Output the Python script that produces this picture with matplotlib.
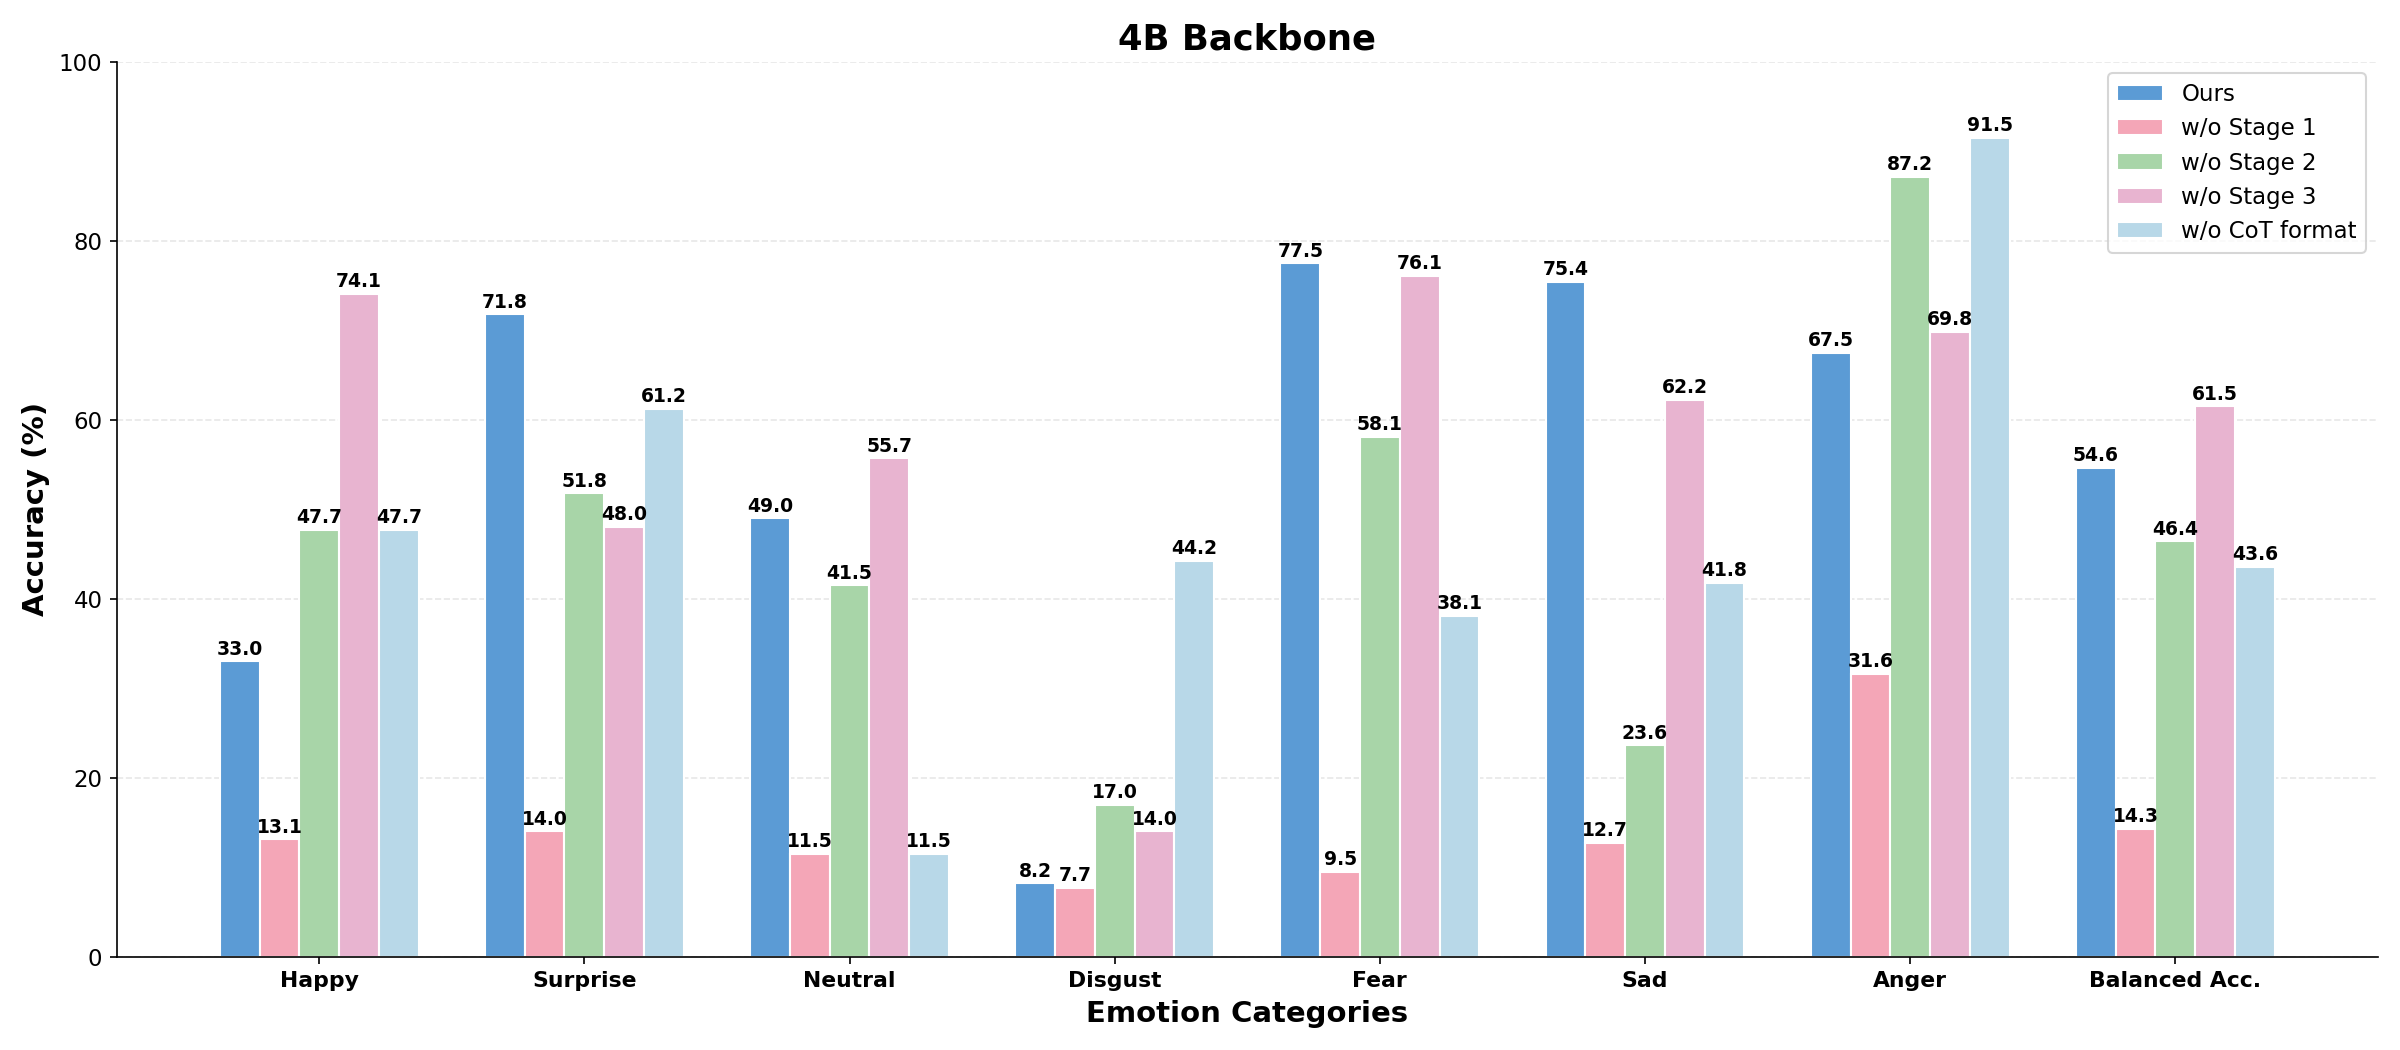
import numpy as np
import matplotlib.pyplot as plt

# Data
categories = ['Happy', 'Surprise', 'Neutral', 'Disgust', 'Fear', 'Sad', 'Anger', 'Balanced Acc.']
ours = [33.0, 71.8, 49.0, 8.2, 77.5, 75.4, 67.5, 54.6]
wo_stage1 = [13.1, 14.0, 11.5, 7.7, 9.5, 12.7, 31.6, 14.3]
wo_stage2 = [47.7, 51.8, 41.5, 17.0, 58.1, 23.6, 87.2, 46.4]
wo_stage3 = [74.1, 48.0, 55.7, 14.0, 76.1, 62.2, 69.8, 61.5]
wo_cot = [47.7, 61.2, 11.5, 44.2, 38.1, 41.8, 91.5, 43.6]

series = [ours, wo_stage1, wo_stage2, wo_stage3, wo_cot]
labels = ['Ours', 'w/o Stage 1', 'w/o Stage 2', 'w/o Stage 3', 'w/o CoT format']
colors = ['#5B9BD5', '#F4A6B7', '#A8D5A8', '#E8B4D0', '#B8D8E8']

fig, ax = plt.subplots(figsize=(16, 7), dpi=150)

x = np.arange(len(categories))
width = 0.15

for i, (vals, lab, col) in enumerate(zip(series, labels, colors)):
    pos = x + (i - 2) * width
    bars = ax.bar(pos, vals, width, label=lab, color=col, edgecolor='white', linewidth=1)
    for b, v in zip(bars, vals):
        ax.text(b.get_x() + b.get_width() / 2, v + 0.3, f'{v:.1f}',
                ha='center', va='bottom', fontsize=9, fontweight='bold')

ax.set_title('4B Backbone', fontsize=17, fontweight='bold')
ax.set_xlabel('Emotion Categories', fontsize=14, fontweight='bold')
ax.set_ylabel('Accuracy (%)', fontsize=14, fontweight='bold')
ax.set_xticks(x)
ax.set_xticklabels(categories, fontsize=10.5, fontweight='bold')
ax.tick_params(axis='y', labelsize=11)
ax.set_ylim(0, 100)

ax.spines['top'].set_visible(False)
ax.spines['right'].set_visible(False)
ax.grid(axis='y', linestyle='--', alpha=0.3)
ax.set_axisbelow(True)

ax.legend(loc='upper right', fontsize=11)

plt.tight_layout()
fig.savefig('out.png', dpi=150)
